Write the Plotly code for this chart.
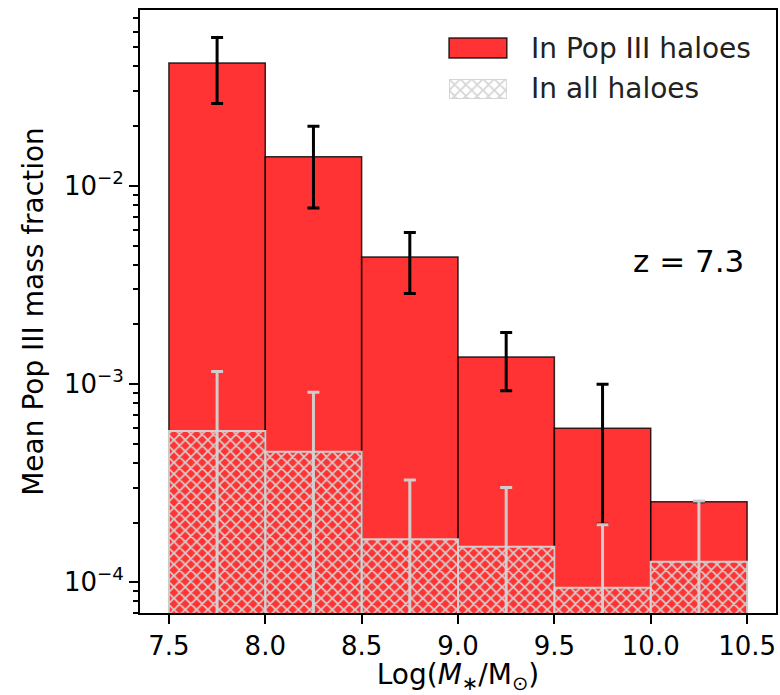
import plotly.graph_objects as go
import numpy as np

# ---- data ----
bin_centers = [7.75, 8.25, 8.75, 9.25, 9.75, 10.25]
bin_width = 0.5
popiii_frac = [0.0416, 0.0140, 0.00437, 0.00137, 0.000598, 0.000255]
popiii_err_plus = [0.0144, 0.0060, 0.00144, 0.00045, 0.000400, 0.0]
popiii_err_minus = [0.0156, 0.00626, 0.00151, 0.000444, 0.000402, 0.0]
all_frac = [0.000580, 0.000456, 0.000165, 0.000151, 0.0000939, 0.000127]
all_err = [0.000577, 0.000454, 0.000163, 0.000150, 0.000101, 0.000130]
x_ticks = [7.5, 8.0, 8.5, 9.0, 9.5, 10.0, 10.5]
y_ticks = [1e-4, 1e-3, 1e-2]
y_ticktext = ["10<sup>−4</sup>", "10<sup>−3</sup>", "10<sup>−2</sup>"]
legend_labels = ["In Pop III haloes", "In all haloes"]
redshift_label = "z = 7.3"

FONT = "DejaVu Sans"
RED = "rgba(255,0,0,0.8)"
EDGE = "rgba(0,0,0,0.8)"
GREY = "rgba(211,211,211,0.95)"

fig = go.Figure()

fig.add_trace(go.Bar(
    x=bin_centers, y=popiii_frac, width=bin_width,
    marker=dict(color=RED, line=dict(color=EDGE, width=1.5)),
    error_y=dict(type="data", symmetric=False, array=popiii_err_plus,
                 arrayminus=popiii_err_minus, color="black", thickness=3, width=6),
    showlegend=False,
))

fig.add_trace(go.Bar(
    x=bin_centers, y=all_frac, width=bin_width,
    marker=dict(color="rgba(0,0,0,0)", line=dict(color=GREY, width=2),
                pattern=dict(shape="x", fgcolor=GREY, bgcolor="rgba(0,0,0,0)",
                             size=8, solidity=0.4, fillmode="replace")),
    error_y=dict(type="data", array=all_err, color=GREY, thickness=3, width=6),
    showlegend=False,
))

# legend swatch for hatched bars (separate tiny axis)
fig.add_trace(go.Bar(
    x=[0], y=[1], width=1, xaxis="x2", yaxis="y2",
    marker=dict(color="rgba(0,0,0,0)", line=dict(color=GREY, width=2),
                pattern=dict(shape="x", fgcolor=GREY, bgcolor="rgba(0,0,0,0)",
                             size=8, solidity=0.4, fillmode="replace")),
    showlegend=False, hoverinfo="skip",
))

W, H = 780, 695
L, R, T, B = 140, 2, 10, 82
pw, ph = W - L - R, H - T - B

def px2paper_x(px):
    return (px - L) / pw

def px2paper_y(py):
    return (H - B - py) / ph

minor_vals = [k * 10.0 ** e for e in range(-5, 0) for k in range(2, 10)]

fig.update_layout(
    width=W, height=H,
    margin=dict(l=L, r=R, t=T, b=B),
    paper_bgcolor="white", plot_bgcolor="white",
    barmode="overlay",
    font=dict(family=FONT, color="black", size=26),
    xaxis=dict(
        range=[7.35, 10.65], tickvals=x_ticks, ticktext=[f"{v:.1f}" for v in x_ticks],
        showgrid=False, zeroline=False, showline=True, mirror=True,
        linecolor="black", linewidth=2, ticks="outside", ticklen=9, tickwidth=2,
        tickcolor="black", tickfont=dict(size=26, family=FONT),
        title=dict(text="Log(<i>M</i><sub>∗</sub>/M<sub>⊙</sub>)",
                   font=dict(size=28, family=FONT), standoff=12),
    ),
    yaxis=dict(
        type="log", range=[-4.155, -1.113], tickvals=y_ticks, ticktext=y_ticktext,
        showgrid=False, zeroline=False, showline=True, mirror=True,
        linecolor="black", linewidth=2, ticks="outside", ticklen=9, tickwidth=2,
        tickcolor="black", tickfont=dict(size=26, family=FONT),
        minor=dict(tickvals=minor_vals, ticks="outside", ticklen=5, tickwidth=1.5,
                   tickcolor="black", showgrid=False),
        title=dict(text="Mean Pop III mass fraction",
                   font=dict(size=28, family=FONT), standoff=12),
    ),
    xaxis2=dict(domain=[px2paper_x(450), px2paper_x(508)], range=[-0.5, 0.5],
                anchor="y2", visible=False, fixedrange=True),
    yaxis2=dict(domain=[px2paper_y(99), px2paper_y(79)], range=[0, 1],
                anchor="x2", visible=False, fixedrange=True),
)

# red legend swatch
fig.add_shape(type="rect", xref="paper", yref="paper",
              x0=px2paper_x(450), x1=px2paper_x(508),
              y0=px2paper_y(58), y1=px2paper_y(38),
              fillcolor=RED, line=dict(color=EDGE, width=1.5))

fig.add_annotation(x=px2paper_x(530), y=px2paper_y(48), xref="paper", yref="paper",
                   text=legend_labels[0], showarrow=False, xanchor="left", yanchor="middle",
                   font=dict(size=28, family=FONT, color="#222"))
fig.add_annotation(x=px2paper_x(530), y=px2paper_y(89), xref="paper", yref="paper",
                   text=legend_labels[1], showarrow=False, xanchor="left", yanchor="middle",
                   font=dict(size=28, family=FONT, color="#222"))

fig.add_annotation(x=px2paper_x(633), y=px2paper_y(261), xref="paper", yref="paper",
                   text=redshift_label, showarrow=False, xanchor="left", yanchor="middle",
                   font=dict(size=31, family=FONT, color="black"))

fig.write_html("out.html")
